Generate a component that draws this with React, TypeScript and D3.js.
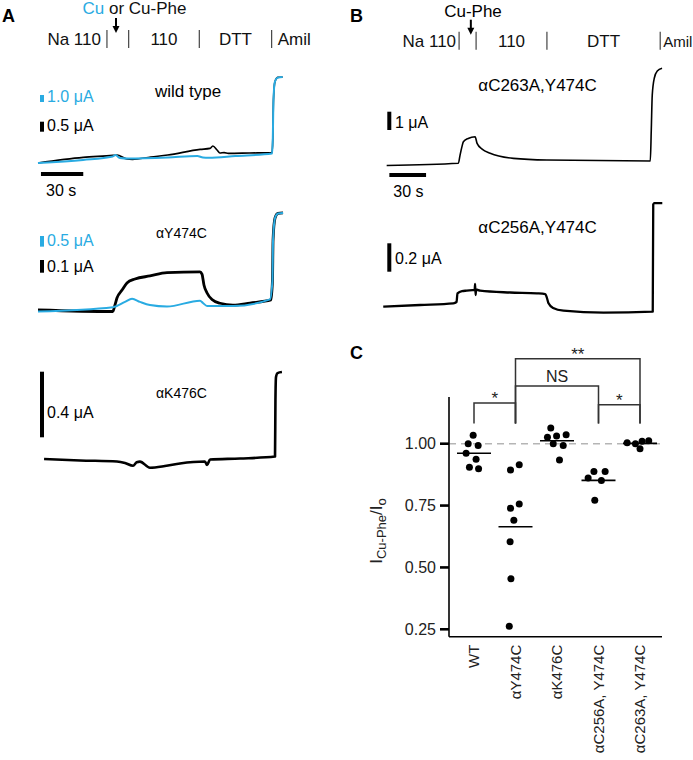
'use client';

import React, { useEffect, useRef } from 'react';
import * as d3 from 'd3';

const BLUE = '#29abe2';
const FONT = "'Liberation Sans', Arial, Helvetica, sans-serif";

// ---- Panel A traces: time (s) vs current (uA, relative to start) ----
const wtBlackT = [0, 32, 53, 56, 63, 67, 80, 92, 115, 122, 124, 127, 129, 132, 135, 150, 166, 166.5, 167, 168, 170, 173.5];
const wtBlackI = [0, 0.28, 0.38, 0.4, 0.2, 0.18, 0.3, 0.4, 0.68, 0.73, 0.85, 0.65, 0.5, 0.52, 0.48, 0.5, 0.52, 1.15, 3.15, 4.05, 4.28, 4.3];
const wtBlueT = [0, 32, 53, 55, 58, 64, 92, 113, 117, 121, 140, 166, 166.5, 167, 168, 170, 173.5];
const wtBlueI = [0, 0.43, 0.93, 1.14, 0.71, 0.64, 0.79, 1.0, 0.79, 0.76, 1.0, 1.36, 3.3, 9, 11.6, 12.2, 12.3];

const y474BlackT = [0, 53, 54.6, 56, 59.6, 63.1, 68.8, 79.4, 91.5, 114.9, 116.3, 117.7, 119.9, 123.4, 129.1, 138.3, 150.4, 165.2, 166.3, 166.7, 168.1, 170.2, 173.8];
const y474BlackI = [0, -0.012, 0.04, 0.094, 0.157, 0.213, 0.244, 0.268, 0.294, 0.3, 0.283, 0.197, 0.134, 0.083, 0.053, 0.039, 0.055, 0.079, 0.236, 0.55, 0.724, 0.76, 0.764];
const y474BlueT = [0, 53.2, 61.7, 66.7, 72.3, 79.4, 91.5, 114.9, 117, 119.9, 138.3, 164.5, 166.3, 166.7, 168.1, 170.2, 173.8];
const y474BlueI = [0, 0.2, 0.45, 0.6, 0.45, 0.3, 0.23, 0.51, 0.4, 0.26, 0.26, 0.57, 1.48, 3.36, 4.39, 4.6, 4.62];

const k476T = [4.3, 29.8, 56, 61.7, 67.4, 70, 72.3, 79.4, 90, 100.7, 118.4, 119.9, 122, 143.3, 168.1, 168.4, 168.8, 169.9, 173];
const k476I = [0, -0.009, -0.015, -0.024, -0.041, -0.02, -0.016, -0.053, -0.043, -0.027, -0.015, -0.037, -0.003, 0.003, 0.015, 0.36, 0.5, 0.524, 0.53];

// ---- Panel B traces ----
const c263T = [3, 61.6, 63, 64.3, 65.7, 69.6, 75.3, 76.9, 81, 87.6, 106.6, 134, 218.5, 219.3, 220.1, 221.8, 224.2, 228.1];
const c263I = [0, 0.12, 0.57, 0.96, 1.3, 1.48, 1.57, 1.21, 0.9, 0.67, 0.39, 0.3, 0.25, 1.94, 3.85, 4.78, 5.16, 5.31];

const c256T = [0.2, 30.3, 57.5, 60.1, 60.9, 64.6, 68.5, 74.9, 75.3, 75.7, 76.1, 79.4, 103.9, 125.8, 132.6, 133.8, 135.3, 139.1, 147.5, 180.3, 220.5, 220.9, 221.8, 228.3];
const c256I = [0, 0.012, 0.024, 0.033, 0.094, 0.11, 0.113, 0.118, 0.16, 0.082, 0.121, 0.113, 0.1, 0.094, 0.089, 0.068, 0.024, -0.009, -0.028, -0.042, -0.035, 0.72, 0.73, 0.73];

// solution changes (s)
const solutionLabels = ['Na 110', '110', 'DTT', 'Amil'];
const solutionChangesA = [48.9, 64.3, 114.4, 165.7];
const solutionChangesB = [62.2, 76.1, 134, 226.6];
const cuApplyA = 55.3;
const cuApplyB = 71.8;

// ---- Panel C: I(Cu-Phe)/I0 ----
const categories = ['WT', 'αY474C', 'αK476C', 'αC256A, Y474C', 'αC263A, Y474C'];
const wtValues = [1.034, 1.0, 0.993, 0.961, 0.937, 0.905, 0.899];
const y474Values = [0.894, 0.915, 0.739, 0.756, 0.691, 0.604, 0.454, 0.262];
const k476Values = [1.063, 1.026, 1.031, 1.036, 1.0, 0.993, 0.934];
const c256Values = [0.888, 0.888, 0.861, 0.851, 0.771];
const c263Values = [1.004, 1.0, 1.01, 1.012, 0.98];
// horizontal scatter offsets (fraction of category step)
const wtJitter = [-0.02, -0.14, 0.1, -0.19, 0.05, -0.11, 0.11];
const y474Jitter = [-0.12, 0.09, -0.12, 0.09, -0.04, -0.13, -0.11, -0.15];
const k476Jitter = [-0.15, -0.23, -0.01, 0.22, -0.09, 0.15, 0.06];
const c256Jitter = [-0.11, 0.16, -0.25, 0.07, -0.09];
const c263Jitter = [-0.31, -0.11, 0.05, 0.21, 0];
const yTicks = [0.25, 0.5, 0.75, 1.0];

const comparisons = [
  { a: 0, b: 1, label: '*', top: 1.164 },
  { a: 3, b: 4, label: '*', top: 1.157 },
  { a: 1, b: 3, label: 'NS', top: 1.233 },
  { a: 1, b: 4, label: '**', top: 1.343 },
];

type G = d3.Selection<SVGGElement, unknown, null, undefined>;

function trace(g: G, t: number[], I: number[], x: d3.ScaleLinear<number, number>, y: d3.ScaleLinear<number, number>, color: string, w: number) {
  const pts = t.map((v, i) => [v, I[i]] as [number, number]);
  const line = d3.line<[number, number]>().x(d => x(d[0])).y(d => y(d[1])).curve(d3.curveMonotoneX);
  g.append('path').attr('d', line(pts)).attr('fill', 'none').attr('stroke', color)
    .attr('stroke-width', w).attr('stroke-linejoin', 'round');
}

function scaleBar(g: G, x0: number, top: number, y: d3.ScaleLinear<number, number>, value: number, color: string, label: string, w = 4) {
  const h = y(0) - y(value);
  g.append('rect').attr('x', x0).attr('y', top).attr('width', w).attr('height', h).attr('fill', color);
  if (label) {
    g.append('text').attr('x', x0 + w + 3).attr('y', top + h - 0.5).attr('fill', color)
      .attr('font-size', 16).text(label);
  }
}

function header(g: G, x: d3.ScaleLinear<number, number>, changes: number[], applyT: number, y0: number, gap: number, lastSize: number) {
  const xs = changes.map(c => x(c));
  xs.forEach(v => {
    g.append('line').attr('x1', v).attr('x2', v).attr('y1', y0).attr('y2', y0 + 18)
      .attr('stroke', '#444').attr('stroke-width', 1.2);
  });
  const ty = y0 + 15;
  const t = (txt: string, px: number, anchor: string, size = 17) =>
    g.append('text').attr('x', px).attr('y', ty).attr('text-anchor', anchor).attr('font-size', size).attr('fill', '#111').text(txt);
  t(solutionLabels[0], xs[0] - gap, 'end');
  t(solutionLabels[1], (xs[1] + xs[2]) / 2, 'middle');
  t(solutionLabels[2], (xs[2] + xs[3]) / 2, 'middle');
  t(solutionLabels[3], xs[3] + gap, 'start', lastSize);
  const ax = x(applyT);
  g.append('line').attr('x1', ax).attr('x2', ax).attr('y1', y0 - 12).attr('y2', y0 - 3)
    .attr('stroke', '#000').attr('stroke-width', 2);
  g.append('path').attr('d', `M${ax - 3.5},${y0 - 4}L${ax + 3.5},${y0 - 4}L${ax},${y0 + 3}Z`).attr('fill', '#000');
}

export default function App() {
  const svgRef = useRef<SVGSVGElement>(null);

  useEffect(() => {
    if (!svgRef.current) return;
    const svg = d3.select(svgRef.current);
    svg.selectAll('*').remove();
    const g = svg.append('g') as unknown as G;

    // panel letters
    [['A', 2, 22], ['B', 350, 22], ['C', 350, 358.5]].forEach(([l, px, py]) => {
      g.append('text').attr('x', px as number).attr('y', py as number).attr('font-size', 18)
        .attr('font-weight', 'bold').text(l as string);
    });

    // ===== Panel A =====
    const xA = d3.scaleLinear().domain([0, 30]).range([38, 80.3]);
    header(g, xA, solutionChangesA, cuApplyA, 30, 6, 17);
    const cuText = g.append('text').attr('x', 134.5).attr('y', 14).attr('text-anchor', 'middle').attr('font-size', 17);
    cuText.append('tspan').attr('fill', BLUE).text('Cu');
    cuText.append('tspan').attr('fill', '#111').text(' or Cu-Phe');

    // wild type
    const wtK = d3.scaleLinear().domain([0, 1]).range([163, 143]);
    const wtB = d3.scaleLinear().domain([0, 1]).range([163, 156]);
    scaleBar(g, 40, 95, wtB, 1.0, BLUE, '1.0 μA');
    scaleBar(g, 40, 121.7, wtK, 0.5, '#000', '0.5 μA');
    g.append('text').attr('x', 155).attr('y', 97.3).attr('font-size', 17).text('wild type');
    trace(g, wtBlackT, wtBlackI, xA, wtK, '#000', 1.6);
    trace(g, wtBlueT, wtBlueI, xA, wtB, BLUE, 2);
    g.append('line').attr('x1', xA(2.1)).attr('x2', xA(32.1)).attr('y1', 174).attr('y2', 174)
      .attr('stroke', '#000').attr('stroke-width', 4);
    g.append('text').attr('x', 46).attr('y', 196).attr('font-size', 16).text('30 s');

    // alpha Y474C
    const yK = d3.scaleLinear().domain([0, 1]).range([310, 183]);
    const yB = d3.scaleLinear().domain([0, 1]).range([311.5, 290.2]);
    scaleBar(g, 40, 236, yB, 0.5, BLUE, '0.5 μA');
    scaleBar(g, 40, 260, yK, 0.1, '#000', '0.1 μA');
    g.append('text').attr('x', 156).attr('y', 237.7).attr('font-size', 14).text('αY474C');
    trace(g, y474BlackT, y474BlackI, xA, yK, '#000', 2.8);
    trace(g, y474BlueT, y474BlueI, xA, yB, BLUE, 2);

    // alpha K476C
    const kY = d3.scaleLinear().domain([0, 1]).range([459, 295]);
    scaleBar(g, 40, 371.7, kY, 0.4, '#000', '', 4);
    g.append('text').attr('x', 47).attr('y', 418).attr('font-size', 16).text('0.4 μA');
    g.append('text').attr('x', 156).attr('y', 397.7).attr('font-size', 14).text('αK476C');
    trace(g, k476T, k476I, xA, kY, '#000', 2.6);

    // ===== Panel B =====
    const xB = d3.scaleLinear().domain([0, 30]).range([383, 419.7]);
    header(g, xB, solutionChangesB, cuApplyB, 31.7, 3, 15);
    g.append('text').attr('x', 473).attr('y', 16.7).attr('text-anchor', 'middle').attr('font-size', 17).text('Cu-Phe');

    const b1Y = d3.scaleLinear().domain([0, 1]).range([165.5, 147.2]);
    scaleBar(g, 387.3, 111.7, b1Y, 1, '#000', '', 4);
    g.append('text').attr('x', 395).attr('y', 127.5).attr('font-size', 16).text('1 μA');
    g.append('text').attr('x', 478.3).attr('y', 90.7).attr('font-size', 17).text('αC263A,Y474C');
    trace(g, c263T, c263I, xB, b1Y, '#000', 1.6);
    g.append('line').attr('x1', xB(5.2)).attr('x2', xB(35.2)).attr('y1', 175).attr('y2', 175)
      .attr('stroke', '#000').attr('stroke-width', 4);
    g.append('text').attr('x', 393.3).attr('y', 196.7).attr('font-size', 16).text('30 s');

    const b2Y = d3.scaleLinear().domain([0, 1]).range([306.7, 164.7]);
    scaleBar(g, 387.3, 243.3, b2Y, 0.2, '#000', '', 4);
    g.append('text').attr('x', 395).attr('y', 264).attr('font-size', 16).text('0.2 μA');
    g.append('text').attr('x', 478.3).attr('y', 233.3).attr('font-size', 17).text('αC256A,Y474C');
    trace(g, c256T, c256I, xB, b2Y, '#000', 2.3);

    // ===== Panel C =====
    const x = d3.scalePoint<string>().domain(categories).range([474, 640]);
    const step = x.step();
    const y = d3.scaleLinear().domain([0.25, 1.0]).range([629.3, 443.7]);
    const axL = 449, axR = 662, axB = 636.7, axT = 397;

    // dashed reference
    g.append('line').attr('x1', axL).attr('x2', axR - 2).attr('y1', y(1)).attr('y2', y(1))
      .attr('stroke', '#b5b5b5').attr('stroke-width', 1.6).attr('stroke-dasharray', '7,5');

    g.append('line').attr('x1', axL).attr('x2', axL).attr('y1', axT).attr('y2', axB).attr('stroke', '#000').attr('stroke-width', 1.6);
    g.append('line').attr('x1', axL).attr('x2', axR).attr('y1', axB).attr('y2', axB).attr('stroke', '#000').attr('stroke-width', 1.6);
    yTicks.forEach(v => {
      g.append('line').attr('x1', axL - 9).attr('x2', axL).attr('y1', y(v)).attr('y2', y(v)).attr('stroke', '#000').attr('stroke-width', 2.6);
      g.append('text').attr('x', axL - 13).attr('y', y(v)).attr('dy', '0.35em').attr('text-anchor', 'end')
        .attr('font-size', 16).attr('fill', '#222').text(d3.format('.2f')(v));
    });

    categories.forEach(c => {
      g.append('text').attr('transform', `translate(${x(c)},${axB + 8}) rotate(-90)`).attr('dy', '0.35em')
        .attr('text-anchor', 'end').attr('font-size', 15).attr('fill', '#222').text(c);
    });

    // y label
    const yl = g.append('text').attr('transform', `translate(376,531) rotate(-90)`).attr('text-anchor', 'middle')
      .attr('dy', '0.35em').attr('font-size', 17).attr('fill', '#222');
    yl.append('tspan').text('I');
    yl.append('tspan').attr('font-size', 13).attr('dy', 4).text('Cu-Phe');
    yl.append('tspan').attr('dy', -4).text('/I');
    yl.append('tspan').attr('font-size', 13).attr('dy', 4).text('o');

    const groups = [
      [wtValues, wtJitter], [y474Values, y474Jitter], [k476Values, k476Jitter],
      [c256Values, c256Jitter], [c263Values, c263Jitter],
    ];
    groups.forEach(([vals, jit], i) => {
      const cx = x(categories[i])!;
      const m = d3.mean(vals)!;
      g.append('line').attr('x1', cx - 17).attr('x2', cx + 17).attr('y1', y(m)).attr('y2', y(m))
        .attr('stroke', '#000').attr('stroke-width', 1.6);
      g.selectAll(null).data(vals).join('circle')
        .attr('cx', (_d, j) => cx + jit[j] * step).attr('cy', d => y(d)).attr('r', 3.5).attr('fill', '#000');
    });

    // significance brackets
    const legBottom = y(1.082);
    comparisons.forEach(cmp => {
      const xa = x(categories[cmp.a])!;
      const xb = x(categories[cmp.b])!;
      const ty = y(cmp.top);
      g.append('path').attr('d', `M${xa},${legBottom}V${ty}H${xb}V${legBottom}`)
        .attr('fill', 'none').attr('stroke', '#333').attr('stroke-width', 1.5);
      g.append('text').attr('x', (xa + xb) / 2).attr('y', cmp.label === 'NS' ? ty - 4 : ty + 1)
        .attr('text-anchor', 'middle').attr('font-size', cmp.label === 'NS' ? 16 : 17).attr('fill', '#222').text(cmp.label);
    });
  }, []);

  return (
    <svg
      ref={svgRef}
      width={693}
      height={760}
      fontFamily={FONT}
      style={{ position: 'absolute', left: 0, top: 0, background: '#fff' }}
    />
  );
}
